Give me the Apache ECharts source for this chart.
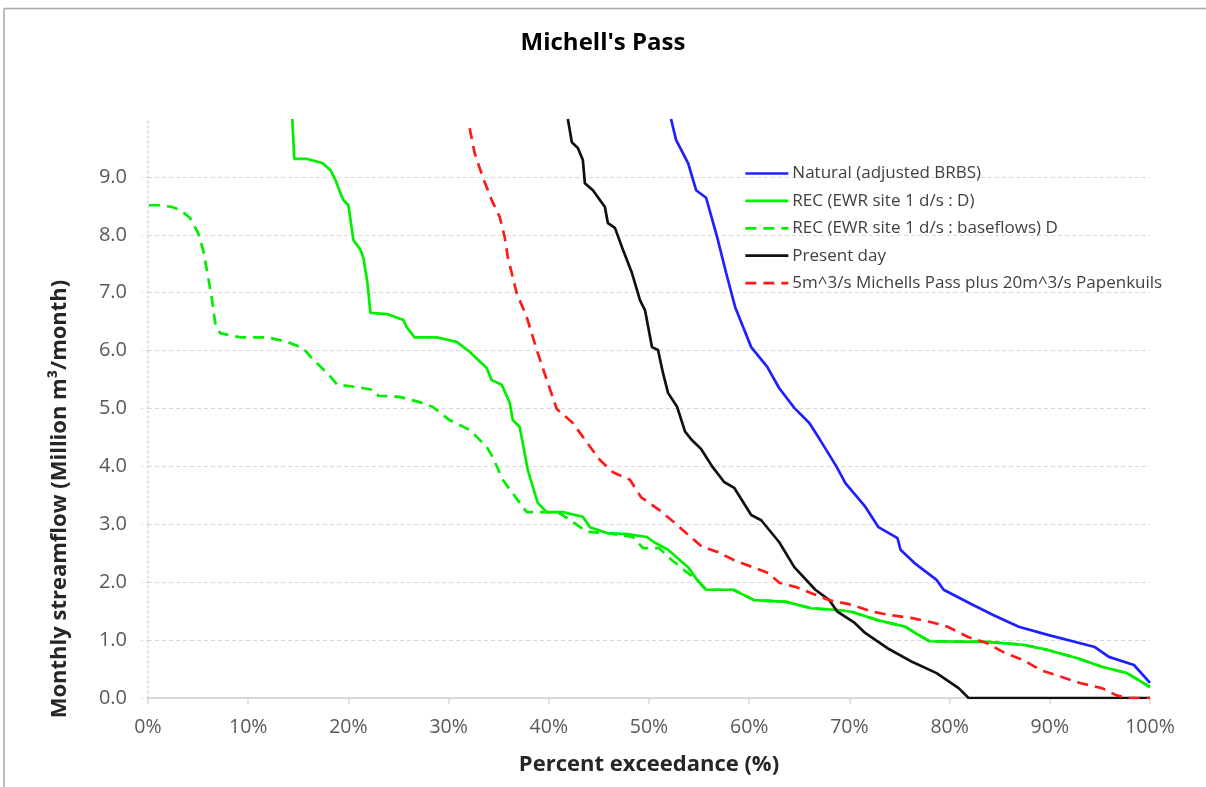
<!DOCTYPE html>
<html>
<head>
<meta charset="utf-8">
<script src="https://cdn.jsdelivr.net/npm/echarts@6/dist/echarts.min.js"></script>
<style>
html,body{margin:0;padding:0;background:#fff;}
#c{width:1206px;height:787px;}
</style>
</head>
<body>
<div id="c"></div>
<script>
// ---- data (x = percent exceedance, y = million m3/month) ----
const seriesNames = [
  'Natural (adjusted BRBS)',
  'REC (EWR site 1 d/s : D)',
  'REC (EWR site 1 d/s : baseflows) D',
  'Present day',
  '5m^3/s Michells Pass plus 20m^3/s Papenkuils'
];
const xTickLabels = ['0%','10%','20%','30%','40%','50%','60%','70%','80%','90%','100%'];
const yTickLabels = ['0.0','1.0','2.0','3.0','4.0','5.0','6.0','7.0','8.0','9.0'];

const natural = [[52.2,10.0],[52.7,9.64],[53.9,9.24],[54.7,8.77],[55.7,8.64],[56.8,7.96],[57.7,7.34],[58.6,6.75],[60.2,6.06],[61.8,5.72],[63.0,5.35],[64.5,5.01],[66.0,4.75],[67.1,4.45],[68.7,4.0],[69.6,3.71],[71.6,3.30],[72.9,2.95],[74.8,2.76],[75.1,2.56],[76.5,2.33],[78.7,2.04],[79.4,1.87],[82.3,1.61],[84.4,1.43],[86.9,1.23],[89.8,1.09],[94.5,0.88],[95.9,0.71],[98.4,0.57],[100,0.26]];

const recD = [[14.4,10.0],[14.6,9.31],[15.9,9.31],[17.4,9.24],[18.2,9.12],[18.7,8.95],[19.2,8.72],[19.5,8.6],[20.0,8.51],[20.5,7.91],[21.2,7.74],[21.5,7.60],[21.9,7.17],[22.2,6.65],[23.9,6.63],[25.5,6.53],[25.8,6.41],[26.6,6.23],[28.8,6.23],[30.8,6.15],[32.1,5.98],[33.8,5.70],[34.3,5.49],[35.3,5.41],[36.1,5.10],[36.4,4.80],[37.1,4.68],[37.9,3.94],[38.4,3.65],[38.9,3.37],[39.8,3.21],[41.4,3.21],[43.4,3.13],[44.1,2.95],[45.8,2.85],[47.8,2.83],[49.8,2.78],[50.5,2.69],[51.9,2.56],[53.9,2.26],[54.8,2.04],[55.7,1.87],[58.4,1.87],[60.5,1.69],[63.7,1.66],[66.2,1.55],[68.8,1.52],[70.2,1.49],[72.7,1.35],[75.6,1.23],[76.6,1.12],[78.0,0.98],[83.7,0.97],[87.3,0.92],[89.8,0.83],[92.7,0.69],[95.2,0.54],[97.7,0.43],[100,0.19]];

const recBaseflows = [[0.1,8.51],[1.2,8.51],[2.4,8.48],[3.2,8.43],[4.2,8.29],[5.0,8.03],[5.5,7.74],[6.0,7.27],[6.4,6.87],[6.7,6.48],[7.2,6.30],[9.2,6.23],[11.9,6.23],[13.9,6.15],[15.5,6.04],[16.5,5.84],[17.9,5.61],[18.9,5.41],[20.9,5.37],[22.5,5.32],[23.0,5.22],[25.1,5.20],[27.1,5.11],[28.4,5.03],[30.1,4.80],[32.1,4.63],[33.8,4.34],[34.4,4.16],[35.4,3.77],[37.1,3.37],[37.8,3.21],[39.8,3.21],[41.1,3.19],[42.4,3.04],[43.8,2.87],[45.8,2.85],[48.4,2.78],[49.4,2.59],[51.0,2.59],[52.3,2.38],[53.7,2.18],[54.8,2.04],[55.7,1.87],[58.4,1.87],[60.5,1.69],[63.7,1.66],[66.2,1.55],[68.8,1.52],[70.2,1.49],[72.7,1.35],[75.6,1.23],[76.6,1.12],[78.0,0.98],[83.7,0.97],[87.3,0.92],[89.8,0.83],[92.7,0.69],[95.2,0.54],[97.7,0.43],[100,0.19]];

const presentDay = [[41.9,10.0],[42.3,9.60],[42.9,9.50],[43.4,9.29],[43.6,8.89],[44.4,8.77],[45.6,8.48],[45.9,8.20],[46.6,8.12],[47.4,7.74],[48.3,7.34],[49.1,6.87],[49.6,6.70],[50.3,6.06],[50.9,6.01],[51.4,5.61],[51.9,5.27],[52.8,5.03],[53.6,4.6],[54.3,4.45],[55.2,4.3],[56.3,4.0],[57.5,3.73],[58.5,3.63],[60.2,3.16],[61.2,3.07],[63.0,2.69],[64.5,2.26],[66.6,1.87],[68.0,1.69],[68.8,1.49],[70.5,1.30],[71.6,1.12],[73.8,0.86],[76.3,0.62],[78.7,0.43],[80.9,0.17],[81.9,0.0],[100,0.0]];

const scenario = [[32.1,9.84],[32.6,9.41],[33.4,9.0],[34.3,8.6],[35.1,8.31],[35.6,7.96],[35.9,7.62],[36.8,6.99],[37.8,6.58],[38.8,6.01],[39.9,5.44],[40.8,4.99],[42.4,4.75],[43.6,4.46],[45.1,4.11],[46.4,3.90],[48.1,3.77],[49.2,3.47],[51.0,3.25],[52.6,3.02],[53.9,2.82],[55.3,2.61],[56.9,2.52],[58.5,2.38],[60.5,2.25],[61.9,2.16],[63.0,1.99],[64.6,1.92],[66.2,1.81],[68.0,1.69],[70.2,1.61],[72.3,1.49],[74.1,1.43],[76.3,1.38],[78.4,1.30],[79.8,1.23],[81.9,1.05],[83.7,0.95],[85.5,0.78],[87.3,0.66],[89.1,0.48],[90.9,0.38],[93.0,0.26],[95.2,0.17],[96.6,0.05],[97.7,0.0],[100,0.0]];

// ---- chart ----
const FONT = '"Open Sans", "Noto Sans", sans-serif';
const chart = echarts.init(document.getElementById('c'), null, {renderer: 'canvas'});

function lineSeries(name, data, color, dashed, z) {
  return {
    name: name, type: 'line', data: data, symbol: 'none', z: z,
    lineStyle: {color: color, width: 2.7, type: dashed ? [11, 7] : 'solid'},
    itemStyle: {color: color},
    animation: false
  };
}

chart.setOption({
  backgroundColor: '#ffffff',
  animation: false,
  title: {
    text: "Michell's Pass",
    left: 'center', top: 26,
    textStyle: {fontFamily: FONT, fontSize: 24, fontWeight: 'bold', color: '#000'}
  },
  grid: {left: 148, right: 56, top: 119, bottom: 89, containLabel: false},
  legend: {
    orient: 'vertical', left: 739, top: 160,
    itemWidth: 43, itemHeight: 14, itemGap: 10.4,
    data: seriesNames,
    itemStyle: {opacity: 0},
    lineStyle: {width: 2.7},
    textStyle: {fontFamily: FONT, fontSize: 17, color: '#404040', padding: [0,0,0,-1]}
  },
  xAxis: {
    type: 'value', min: 0, max: 100, interval: 10,
    name: 'Percent exceedance (%)', nameLocation: 'middle', nameGap: 56,
    nameTextStyle: {fontFamily: FONT, fontSize: 22, fontWeight: 'bold', color: '#262626'},
    axisLine: {show: true, lineStyle: {color: '#d9d9d9', width: 2}},
    axisTick: {show: true, length: 6, lineStyle: {color: '#d9d9d9', width: 1.5}},
    axisLabel: {
      fontFamily: FONT, fontSize: 19.5, color: '#595959', margin: 19,
      formatter: function (v) { return xTickLabels[Math.round(v / 10)]; }
    },
    splitLine: {show: false}
  },
  yAxis: {
    type: 'value', min: 0, max: 10, interval: 1,
    axisLine: {show: true, lineStyle: {color: '#d9d9d9', width: 1.5, type: [2, 3]}},
    axisTick: {show: true, length: 8, lineStyle: {color: '#d9d9d9', width: 1, type: [2, 3]}},
    axisLabel: {
      fontFamily: FONT, fontSize: 20, color: '#595959', margin: 21,
      showMaxLabel: false,
      formatter: function (v) { const i = Math.round(v); return i < yTickLabels.length ? yTickLabels[i] : ''; }
    },
    splitLine: {show: true, showMaxLine: false, lineStyle: {color: '#d9d9d9', width: 1.2, type: [4, 3]}}
  },
  graphic: [
    {type: 'line', shape: {x1: 4, y1: 8.5, x2: 1206, y2: 8.5}, style: {stroke: '#a6a6a6', lineWidth: 1.5}, silent: true},
    {type: 'line', shape: {x1: 4, y1: 8.5, x2: 4, y2: 787}, style: {stroke: '#a6a6a6', lineWidth: 1.5}, silent: true},
    {
      type: 'text', x: 60, y: 499, rotation: Math.PI / 2,
      style: {
        text: 'Monthly streamflow (Million m³/month)',
        font: 'bold 22px ' + FONT, fill: '#262626',
        textAlign: 'center', textVerticalAlign: 'middle'
      }
    }
  ],
  series: [
    lineSeries(seriesNames[0], natural, '#1f1fff', false, 5),
    lineSeries(seriesNames[2], recBaseflows, '#00ee00', true, 3),
    lineSeries(seriesNames[1], recD, '#00ee00', false, 4),
    lineSeries(seriesNames[3], presentDay, '#111111', false, 6),
    lineSeries(seriesNames[4], scenario, '#ff1a1a', true, 7)
  ]
});
</script>
</body>
</html>
